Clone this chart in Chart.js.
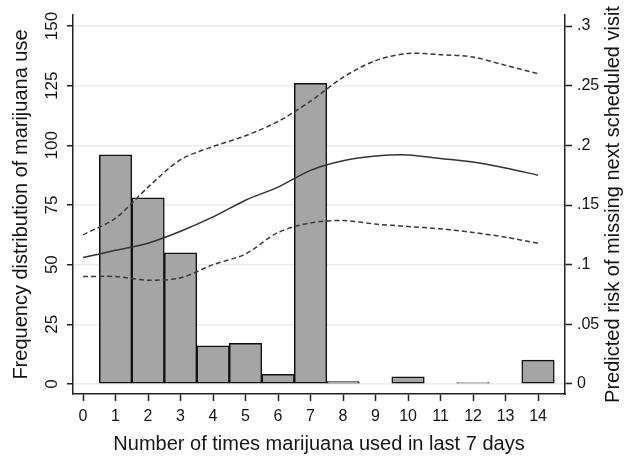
<!DOCTYPE html>
<html lang="en">
<head>
<meta charset="UTF-8">
<title>Marijuana use and missed visits</title>
<script src="https://cdn.jsdelivr.net/npm/chart.js@4.4.1/dist/chart.umd.min.js"></script>
<style>
html, body { margin: 0; padding: 0; background: #fff; }
#wrap { width: 630px; height: 456px; position: relative; }
</style>
</head>
<body>
<div id="wrap"><canvas id="myChart"></canvas></div>

<script>
// data
var xTicks = [0, 1, 2, 3, 4, 5, 6, 7, 8, 9, 10, 11, 12, 13, 14];
var freqTicks = [0, 25, 50, 75, 100, 125, 150];
var riskTicks = [0, 0.05, 0.1, 0.15, 0.2, 0.25, 0.3];
var riskTickLabels = ['0', '.05', '.1', '.15', '.2', '.25', '.3'];

var barDays = [1, 2, 3, 4, 5, 6, 7, 8, 10, 12, 14];
var barFreq = [96, 78, 55, 16, 17, 4, 126, 1, 3, 0.6, 10];

var riskDays = [0, 1, 2, 3, 4, 5, 6, 7, 8, 9, 10, 11, 12, 13, 14];
var riskPred = [0.106, 0.112, 0.118, 0.128, 0.140, 0.154, 0.165, 0.179, 0.187, 0.191, 0.192, 0.189, 0.186, 0.181, 0.175];
var riskUpper = [0.125, 0.139, 0.165, 0.188, 0.199, 0.208, 0.220, 0.237, 0.257, 0.271, 0.277, 0.276, 0.274, 0.267, 0.260];
var riskLower = [0.090, 0.090, 0.087, 0.089, 0.100, 0.109, 0.127, 0.135, 0.137, 0.134, 0.132, 0.130, 0.127, 0.123, 0.118];

var FONT = 'Liberation Sans, Arial, sans-serif';
var TXT = '#151515';

function pts(xs, ys) {
  var out = [];
  for (var i = 0; i < xs.length; i++) out.push({x: xs[i], y: ys[i]});
  return out;
}

// right title reads bottom-to-top like the left one
var rightTitle = {
  id: 'rightTitle',
  afterDraw: function(chart) {
    var ctx = chart.ctx, a = chart.chartArea;
    ctx.save();
    ctx.translate(613, (a.top + a.bottom) / 2);
    ctx.rotate(-Math.PI / 2);
    ctx.font = '20px ' + FONT;
    ctx.fillStyle = TXT;
    ctx.textAlign = 'center';
    ctx.textBaseline = 'middle';
    ctx.fillText('Predicted risk of missing next scheduled visit', 0, 0);
    ctx.restore();
  }
};

var ctx = document.getElementById('myChart').getContext('2d');
var chart = new Chart(ctx, {
  type: 'bar',
  data: {
    datasets: [{
      type: 'bar',
      label: 'Frequency',
      data: pts(barDays, barFreq),
      backgroundColor: '#a5a5a5',
      borderColor: '#111',
      borderWidth: 1.5,
      borderSkipped: false,
      barPercentage: 1,
      categoryPercentage: 1,
      xAxisID: 'x',
      yAxisID: 'y',
      order: 2
    }, {
      type: 'line',
      label: 'Predicted risk',
      data: pts(riskDays, riskPred),
      borderColor: '#333',
      borderWidth: 1.5,
      pointRadius: 0,
      tension: 0.3,
      fill: false,
      xAxisID: 'x',
      yAxisID: 'y2',
      order: 1
    }, {
      type: 'line',
      label: 'Upper',
      data: pts(riskDays, riskUpper),
      borderColor: '#3a3a3a',
      borderWidth: 1.5,
      borderDash: [5, 3],
      pointRadius: 0,
      tension: 0.3,
      fill: false,
      xAxisID: 'x',
      yAxisID: 'y2',
      order: 1
    }, {
      type: 'line',
      label: 'Lower',
      data: pts(riskDays, riskLower),
      borderColor: '#3a3a3a',
      borderWidth: 1.5,
      borderDash: [5, 3],
      pointRadius: 0,
      tension: 0.3,
      fill: false,
      xAxisID: 'x',
      yAxisID: 'y2',
      order: 1
    }]
  },
  options: {
    responsive: true,
    maintainAspectRatio: false,
    animation: false,
    layout: { padding: { top: 15, left: 0, right: 0, bottom: 0 } },
    plugins: { legend: { display: false }, tooltip: { enabled: false } },
    scales: {
      x: {
        type: 'linear',
        position: 'bottom',
        offset: false,
        min: -0.31,
        max: 14.83,
        afterBuildTicks: function(s) { s.ticks = xTicks.map(function(v) { return {value: v}; }); },
        afterFit: function(s) { s.height = 62; },
        grid: { offset: false, drawOnChartArea: false, drawTicks: true, tickLength: 7, tickColor: '#222', tickWidth: 1.5 },
        border: { display: true, color: '#222', width: 1.5 },
        ticks: { color: TXT, font: { family: FONT, size: 16 }, padding: 6, maxRotation: 0, autoSkip: false },
        title: { display: true, text: 'Number of times marijuana used in last 7 days', color: TXT,
                 font: { family: FONT, size: 20 }, padding: { top: 0, bottom: 0 } }
      },
      y: {
        type: 'linear',
        position: 'left',
        min: -4.19,
        max: 154.61,
        afterBuildTicks: function(s) { s.ticks = freqTicks.map(function(v) { return {value: v}; }); },
        afterFit: function(s) { s.width = 73; },
        grid: { color: '#ececec', lineWidth: 1.5, drawTicks: true, tickLength: 6, tickColor: '#222', tickWidth: 1.5 },
        border: { display: true, color: '#222', width: 1.5 },
        ticks: { color: TXT, font: { family: FONT, size: 17 }, padding: 1, minRotation: 90, maxRotation: 90,
                 crossAlign: 'center', autoSkip: false },
        title: { display: true, text: 'Frequency distribution of marijuana use', color: TXT,
                 font: { family: FONT, size: 20 }, padding: { top: 9, bottom: 0 } }
      },
      y2: {
        type: 'linear',
        position: 'right',
        min: -0.00838,
        max: 0.30922,
        afterBuildTicks: function(s) { s.ticks = riskTicks.map(function(v) { return {value: v}; }); },
        afterFit: function(s) { s.width = 65; },
        grid: { drawOnChartArea: false, drawTicks: true, tickLength: 7, tickColor: '#222', tickWidth: 1.5 },
        border: { display: true, color: '#222', width: 1.5 },
        ticks: { color: TXT, font: { family: FONT, size: 16 }, padding: 5, autoSkip: false,
                 callback: function(v) { var i = riskTicks.indexOf(v); return i >= 0 ? riskTickLabels[i] : ''; } },
        title: { display: false }
      }
    }
  },
  plugins: [rightTitle]
});
</script>
</body>
</html>
